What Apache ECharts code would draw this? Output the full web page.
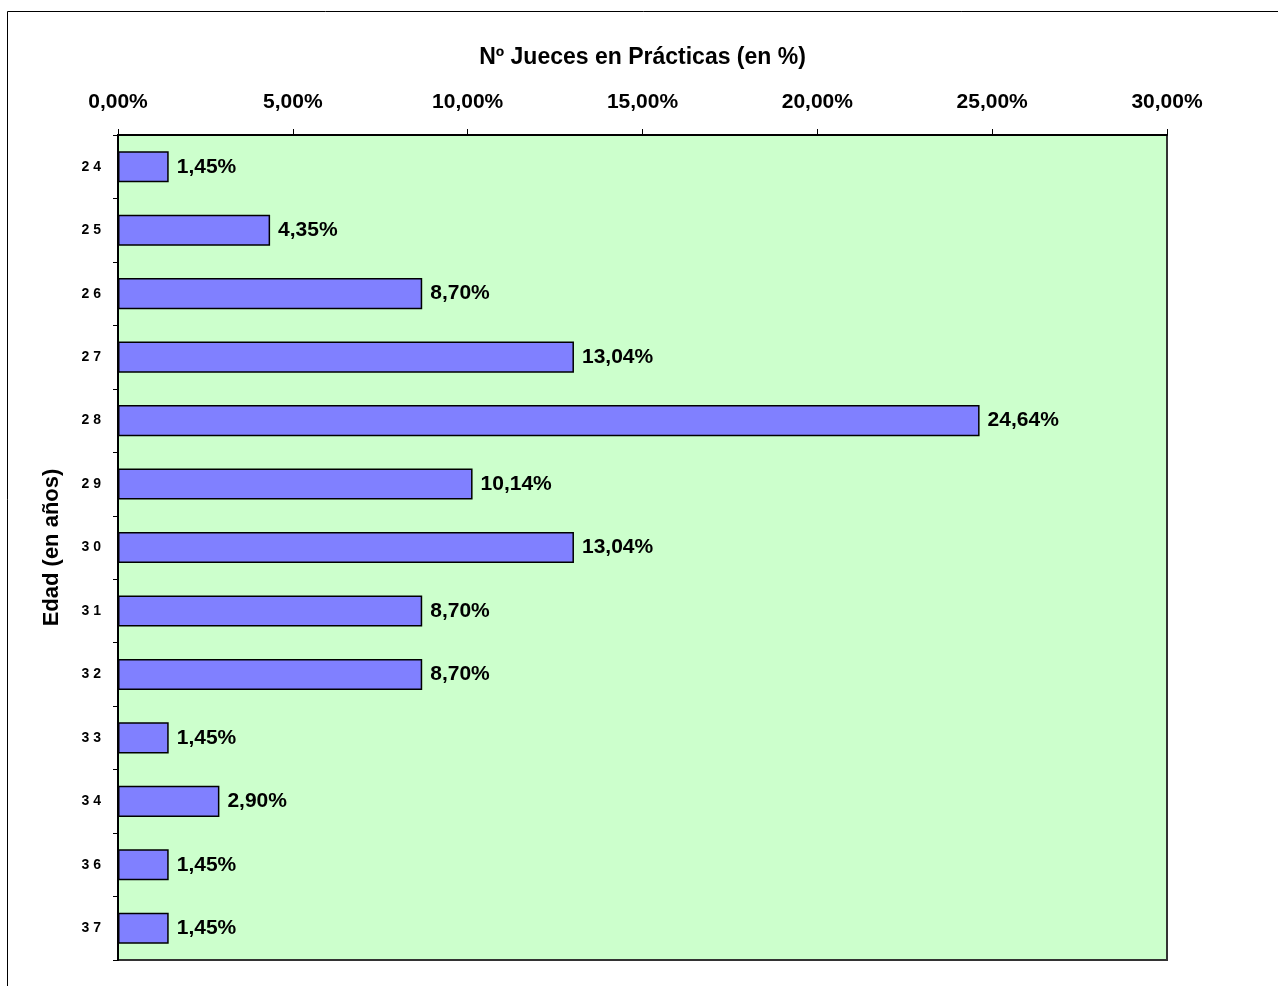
<!DOCTYPE html>
<html>
<head>
<meta charset="utf-8">
<script src="https://cdn.jsdelivr.net/npm/echarts@6/dist/echarts.min.js"></script>
<style>
  html, body { margin: 0; padding: 0; background: #fff; }
  #chart { width: 1278px; height: 986px; }
</style>
</head>
<body>
<div id="chart"></div>
<script>
const ages = ['24', '25', '26', '27', '28', '29', '30', '31', '32', '33', '34', '36', '37']
const percents = [1.45, 4.35, 8.70, 13.04, 24.64, 10.14, 13.04, 8.70, 8.70, 1.45, 2.90, 1.45, 1.45]
const xTicks = [0, 5, 10, 15, 20, 25, 30]

const fmtPct = v => v.toFixed(2).replace('.', ',') + '%'
const font = 'Liberation Sans, Arial, sans-serif'

const chart = echarts.init(document.getElementById('chart'))

const option = {
  backgroundColor: '#fff',
  animation: false,
  textStyle: { fontFamily: font },
  graphic: [{
    type: 'rect',
    x: 0,
    y: 0,
    shape: { x: 7.5, y: 11.5, width: 1300, height: 1000 },
    style: { fill: 'none', stroke: '#000', lineWidth: 1 },
    silent: true
  }],
  grid: {
    left: 118,
    right: 111,
    top: 135,
    bottom: 26,
    show: true,
    backgroundColor: '#CCFFCC',
    borderColor: '#333',
    borderWidth: 2
  },
  xAxis: {
    type: 'value',
    position: 'top',
    min: xTicks[0],
    max: xTicks[xTicks.length - 1],
    interval: 5,
    name: 'Nº Jueces en Prácticas (en %)',
    nameLocation: 'middle',
    nameGap: 66,
    nameTextStyle: { fontSize: 23, fontWeight: 'bold', color: '#000', fontFamily: font },
    axisLine: { show: true, lineStyle: { color: '#000', width: 2 } },
    axisTick: { show: true, length: 6, lineStyle: { color: '#000' } },
    axisLabel: {
      margin: 22,
      fontSize: 21,
      fontWeight: 'bold',
      color: '#000',
      fontFamily: font,
      formatter: v => fmtPct(v)
    },
    splitLine: { show: false }
  },
  yAxis: {
    type: 'category',
    inverse: true,
    data: ages,
    name: 'Edad (en años)',
    nameLocation: 'middle',
    nameGap: 55,
    nameRotate: 90,
    nameTextStyle: { fontSize: 22, fontWeight: 'bold', color: '#000', fontFamily: font },
    axisLine: { show: true, lineStyle: { color: '#000', width: 2 } },
    axisTick: { show: true, length: 5, lineStyle: { color: '#000' } },
    axisLabel: {
      margin: 17,
      fontSize: 14,
      fontWeight: 'bold',
      color: '#000',
      fontFamily: font,
      formatter: v => v.split('').join(' ')
    }
  },
  series: [{
    type: 'bar',
    data: percents,
    barWidth: '49%',
    itemStyle: { color: '#8080FF', borderColor: '#000', borderWidth: 1.5 },
    label: {
      show: true,
      position: 'right',
      distance: 8,
      fontSize: 21,
      fontWeight: 'bold',
      color: '#000',
      fontFamily: font,
      formatter: p => fmtPct(p.value)
    }
  }]
}

chart.setOption(option)
window.addEventListener('resize', () => chart.resize())
</script>
</body>
</html>
